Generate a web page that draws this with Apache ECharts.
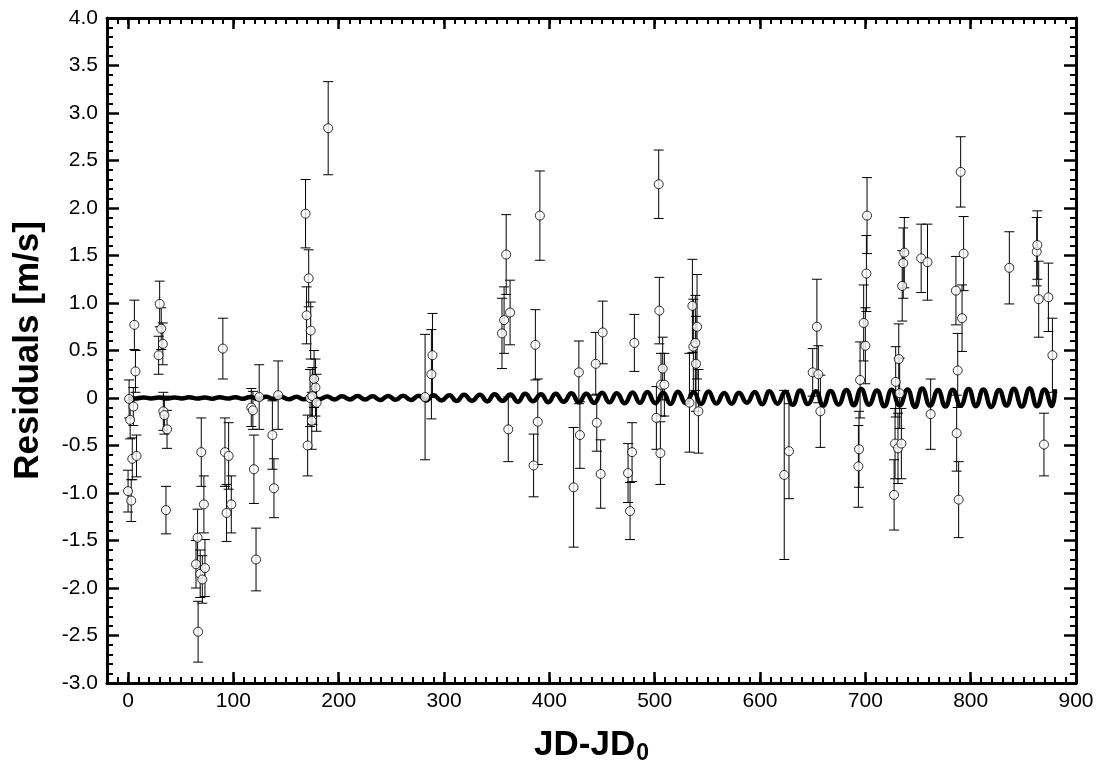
<!DOCTYPE html>
<html>
<head>
<meta charset="utf-8">
<script src="https://cdn.jsdelivr.net/npm/echarts@6/dist/echarts.min.js"></script>
<style>html,body{margin:0;padding:0;background:#fff}#c{width:1099px;height:772px}</style>
</head>
<body>
<div id="c"></div>
<script>
// ---- data ----
const jd = [0,1,2,3,4,5,6,7,8,29,30,31.5,33,33.5,34.5,36,37,64.5,66,66.5,68.5,69.5,70.5,72,73,90,92,93.5,95.5,98,117,118.5,119.5,121.5,124.5,137,138.5,142.5,168.5,169.5,170.5,171.5,172.8,173.4,174.4,175,176.6,177.9,179,190,282,288,289,355,357,359,361,362.7,385,386.7,389,391,423,428,429,444,445,448.7,450.6,474.7,476.6,478.5,480.7,501.6,503.8,504.4,505.4,506,507.6,509.2,533,535.8,536.7,538.6,539.2,540.2,541.5,623,627.5,650,654,655.4,657.3,693.4,694,695,698.4,700,701,701.6,727.3,728.2,728.8,731,731.7,732.6,734.2,735,736,737,753,759,762,786,786.7,787.7,788.6,790.5,791.8,793.3,836.7,862.7,863.3,864.6,869.6,873.8,877.6];
const resid = [-0.98,-0.01,-0.23,-1.08,-0.64,-0.09,0.77,0.28,-0.61,0.45,0.99,0.73,0.57,-0.14,-0.18,-1.18,-0.33,-1.75,-1.47,-2.46,-1.85,-0.57,-1.91,-1.12,-1.79,0.52,-0.57,-1.21,-0.61,-1.12,-0.10,-0.13,-0.75,-1.70,0.01,-0.39,-0.95,0.03,1.94,0.87,-0.50,1.26,0.00,0.71,-0.24,0.02,0.20,0.11,-0.05,2.84,0.01,0.25,0.45,0.68,0.82,1.51,-0.33,0.90,-0.71,0.56,-0.25,1.92,-0.94,0.27,-0.39,0.36,-0.26,-0.80,0.69,-0.79,-1.19,-0.57,0.58,-0.21,2.25,0.92,-0.58,0.14,0.31,0.14,-0.05,0.97,0.54,0.58,0.36,0.75,-0.14,-0.81,-0.56,0.27,0.75,0.25,-0.14,-0.72,-0.54,0.19,0.79,0.55,1.31,1.92,-1.02,-0.48,0.17,-0.53,0.41,0.05,-0.48,1.18,1.42,1.53,1.47,1.43,-0.17,1.13,-0.37,0.29,-1.07,2.38,0.84,1.52,1.37,1.54,1.61,1.04,-0.49,1.06,0.45];
const err = [0.22,0.2,0.2,0.22,0.22,0.2,0.26,0.22,0.22,0.2,0.24,0.22,0.22,0.2,0.2,0.25,0.2,0.25,0.3,0.32,0.25,0.36,0.25,0.3,0.3,0.32,0.36,0.3,0.35,0.3,0.2,0.2,0.36,0.33,0.34,0.36,0.31,0.36,0.36,0.3,0.32,0.3,0.3,0.3,0.3,0.3,0.3,0.3,0.3,0.49,0.66,0.47,0.44,0.37,0.35,0.42,0.34,0.34,0.33,0.37,0.45,0.47,0.63,0.33,0.35,0.33,0.3,0.36,0.33,0.31,0.3,0.31,0.3,0.33,0.36,0.35,0.33,0.33,0.33,0.33,0.52,0.49,0.5,0.5,0.5,0.55,0.44,0.89,0.5,0.25,0.5,0.3,0.38,0.43,0.4,0.4,0.4,0.4,0.4,0.4,0.37,0.37,0.37,0.37,0.37,0.37,0.37,0.37,0.37,0.37,0.36,0.4,0.37,0.36,0.4,0.39,0.4,0.37,0.35,0.39,0.38,0.36,0.36,0.4,0.33,0.36,0.39];
// model curve (extrema)
const modelX = [0,7,14.5,22,29,36.5,44,51,58,65.5,73,80,87,94.5,102,109,116,123.5,131,138,145,152.5,160,167,174,181.5,189,196,203,210.5,218,225,232,239.5,247,254,261,268.5,276,283,290,297.5,305,312,319,326.5,334,341,348,355.5,363,370,377,384.5,392,399,406,413.5,421,428,435,442.5,450,457,464,471.5,479,486,493,500.5,508,515,522,529.5,537,544,551,558.5,566,573,580,587.5,595,602,609,616.5,624,631,638,645.5,653,660,667,674.5,682,689,696,703.5,711,718,725,732.5,740,747,754,761.5,769,776,783,790.5,798,805,812,819.5,827,834,841,848.5,856,863,870,877,880];
const modelY = [0.004,-0.005,0.006,-0.004,0.005,-0.006,0.006,-0.005,0.007,-0.006,0.006,-0.007,0.008,-0.006,0.009,-0.008,0.01,-0.011,0.012,-0.009,0.012,-0.012,0.013,-0.014,0.016,-0.012,0.015,-0.016,0.018,-0.015,0.02,-0.016,0.018,-0.02,0.022,-0.019,0.025,-0.022,0.024,-0.026,0.03,-0.025,0.028,-0.032,0.035,-0.028,0.033,-0.036,0.04,-0.03,0.036,-0.04,0.044,-0.035,0.04,-0.045,0.046,-0.04,0.05,-0.046,0.044,-0.052,0.056,-0.045,0.05,-0.056,0.058,-0.05,0.062,-0.054,0.056,-0.062,0.066,-0.055,0.06,-0.064,0.068,-0.058,0.052,-0.06,0.056,-0.05,0.062,-0.066,0.07,-0.06,0.066,-0.072,0.078,-0.064,0.07,-0.08,0.074,-0.068,0.085,-0.075,0.095,-0.07,0.08,-0.088,0.086,-0.078,0.09,-0.095,0.1,-0.08,0.084,-0.09,0.088,-0.08,0.096,-0.086,0.09,-0.094,0.085,-0.08,0.098,-0.09,0.1,-0.088,0.09,-0.085,0.092,-0.08,-0.03];
const xMajorTicks = [0,100,200,300,400,500,600,700,800,900];

const pts = jd.map((x,i)=>[x, resid[i], err[i]]);
const model = modelX.map((x,i)=>[x, modelY[i]]);

const chart = echarts.init(document.getElementById('c'), null, {renderer:'canvas'});
const FONT = '"Liberation Sans", Arial, Helvetica, sans-serif';
const lineStyle = {color:'#000', width:3};
function xAxisBase(pos, major, showLabel){
  return {
    type:'value', position:pos, min:-20, max:900,
    interval: major ? undefined : 10,
    axisLine:{show: !major, lineStyle:lineStyle, onZero:false},
    axisTick: major ? {show:true, inside:true, length:11, customValues:xMajorTicks, lineStyle:{color:'#000', width:2.5}}
                    : {show:true, inside:true, length:6, interval:0, lineStyle:{color:'#000', width:2}},
    axisLabel: showLabel ? {show:true, customValues:xMajorTicks, color:'#000', fontSize:21, fontFamily:FONT, margin:8} : {show:false},
    splitLine:{show:false}
  };
}
const xMain = xAxisBase('bottom', true, true);
xMain.name = '{a|JD-JD}{b|0}';
xMain.nameLocation = 'middle';
xMain.nameGap = 42;
xMain.nameTextStyle = {rich:{a:{fontSize:35, fontWeight:'bold', fontFamily:FONT, color:'#000'}, b:{fontSize:23, fontWeight:'bold', fontFamily:FONT, color:'#000', padding:[17,0,0,1]}}};

function yAxisBase(pos, showLabel){
  return {
    type:'value', position:pos, min:-3, max:4, interval:0.5,
    axisLine:{show:true, lineStyle:lineStyle, onZero:false},
    axisTick:{show:true, inside:true, length:12, lineStyle:{color:'#000', width:2.5}},
    minorTick:{show:true, splitNumber:5, length:6, lineStyle:{color:'#000', width:2}},
    axisLabel: showLabel ? {show:true, color:'#000', fontSize:21, fontFamily:FONT, margin:9,
      formatter:v=> v===0 ? '0' : v.toFixed(1)} : {show:false},
    splitLine:{show:false}, minorSplitLine:{show:false}
  };
}
const yMain = yAxisBase('left', true);
yMain.name = 'Residuals [m/s]';
yMain.nameLocation = 'middle';
yMain.nameRotate = 90;
yMain.nameGap = 61;
yMain.nameTextStyle = {fontSize:35, fontWeight:'bold', fontFamily:FONT, color:'#000'};

const option = {
  backgroundColor:'#fff',
  animation:false,
  grid:{left:107, right:23, top:18, bottom:89, containLabel:false},
  xAxis:[xMain, xAxisBase('bottom', false, false), xAxisBase('top', true, false), xAxisBase('top', false, false)],
  yAxis:[yMain, yAxisBase('right', false)],
  series:[
    {
      type:'custom', xAxisIndex:0, yAxisIndex:0, data:pts, z:2,
      encode:{x:0, y:1},
      renderItem:(params, api)=>{
        const x = api.value(0), y = api.value(1), e = api.value(2);
        const t = api.coord([x, y+e]), b = api.coord([x, y-e]);
        const hw = 5, st = {stroke:'#000', lineWidth:1};
        return {type:'group', children:[
          {type:'line', shape:{x1:t[0], y1:t[1], x2:b[0], y2:b[1]}, style:st},
          {type:'line', shape:{x1:t[0]-hw, y1:t[1], x2:t[0]+hw, y2:t[1]}, style:st},
          {type:'line', shape:{x1:b[0]-hw, y1:b[1], x2:b[0]+hw, y2:b[1]}, style:st}
        ]};
      }
    },
    {
      type:'line', xAxisIndex:0, yAxisIndex:0, data:model, smooth:0.5, showSymbol:false, z:3,
      lineStyle:{color:'#000', width:4.5}
    },
    {
      type:'scatter', xAxisIndex:0, yAxisIndex:0, data:pts.map(p=>[p[0],p[1]]), z:4,
      symbol:'circle', symbolSize:9,
      itemStyle:{color:'#fff', borderColor:'#000', borderWidth:1}
    }
  ]
};
chart.setOption(option);
</script>
</body>
</html>
